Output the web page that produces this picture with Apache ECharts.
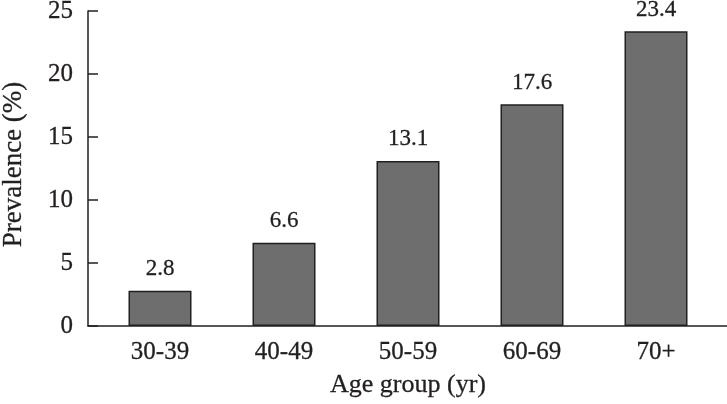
<!DOCTYPE html>
<html>
<head>
<meta charset="utf-8">
<script src="https://cdn.jsdelivr.net/npm/echarts@6/dist/echarts.min.js"></script>
<style>
html,body{margin:0;padding:0;background:#fff;}
#chart{width:727px;height:404px;}
</style>
</head>
<body>
<div id="chart"></div>
<script>
var categories = ['30-39', '40-49', '50-59', '60-69', '70+'];
var prevalence = [2.8, 6.6, 13.1, 17.6, 23.4];
var yTicks = [0, 5, 10, 15, 20, 25];

var FONT = '"Liberation Serif", "DejaVu Serif", serif';
var INK = '#231f20';
var thick = {textBorderColor: INK, textBorderWidth: 0.3};

var chart = echarts.init(document.getElementById('chart'), null, {renderer: 'canvas'});
chart.setOption({
  animation: false,
  backgroundColor: '#ffffff',
  grid: [
    {left: 98, right: 9, top: 11, bottom: 78, containLabel: false, outerBoundsMode: 'none'},
    {left: 88, right: 0, top: 11, bottom: 78, containLabel: false, outerBoundsMode: 'none'}
  ],
  xAxis: [
    {
      type: 'category', gridIndex: 0, data: categories,
      axisLine: {show: false},
      axisTick: {show: false},
      axisLabel: Object.assign({color: INK, fontFamily: FONT, fontSize: 25, margin: 14}, thick),
      name: 'Age group (yr)', nameLocation: 'middle', nameGap: 46,
      nameTextStyle: Object.assign({color: INK, fontFamily: FONT, fontSize: 26}, thick)
    },
    {
      type: 'category', gridIndex: 1, data: categories,
      axisLine: {show: true, lineStyle: {color: INK, width: 1.5}},
      axisTick: {show: false},
      axisLabel: {show: false}
    }
  ],
  yAxis: [
    {
      type: 'value', gridIndex: 0, min: yTicks[0], max: yTicks[yTicks.length - 1], interval: 5,
      offset: 10,
      axisLine: {show: true, lineStyle: {color: INK, width: 1.5}},
      axisTick: {show: true, inside: true, length: 10, lineStyle: {color: INK, width: 1.5}},
      splitLine: {show: false},
      axisLabel: Object.assign({color: INK, fontFamily: FONT, fontSize: 25, margin: 15}, thick),
      name: 'Prevalence (%)', nameLocation: 'middle', nameGap: 61, nameRotate: 90,
      nameTextStyle: Object.assign({color: INK, fontFamily: FONT, fontSize: 27, padding: [0, 0, 0, 8]}, thick)
    },
    {
      type: 'value', gridIndex: 1, min: 0, max: 25, show: false
    }
  ],
  series: [
    {
      type: 'bar', xAxisIndex: 0, yAxisIndex: 0, data: prevalence,
      barWidth: 63,
      itemStyle: {color: '#6e6e6e', borderColor: INK, borderWidth: 1.5},
      label: Object.assign({
        show: true, position: 'top', distance: 10,
        color: INK, fontFamily: FONT, fontSize: 23,
        formatter: function (p) { return p.value.toFixed(1); }
      }, thick)
    }
  ]
});
</script>
</body>
</html>
